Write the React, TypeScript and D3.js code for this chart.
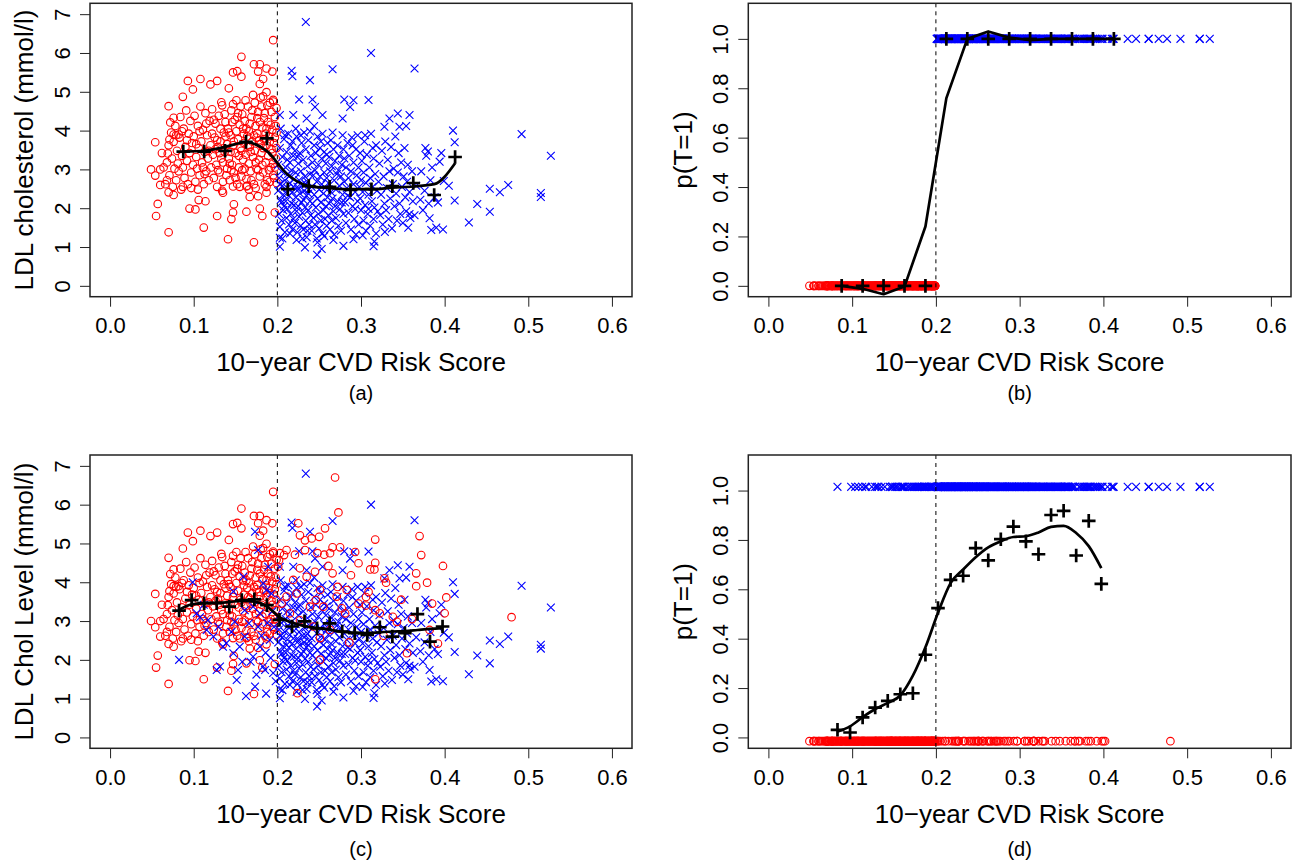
import { useEffect, useRef } from "react";
import * as d3 from "d3";

// ---------- values ----------
const xTicks = [0, 0.1, 0.2, 0.3, 0.4, 0.5, 0.6];
const ldlTicks = [0, 1, 2, 3, 4, 5, 6, 7];
const probTicks = [0, 0.2, 0.4, 0.6, 0.8, 1.0];
const cutoff = 0.2;

// panel (a) sample: [risk score, LDL]; treatment in (a)/(b) follows the cutoff
const sharpSample = [
  // below cutoff
  [0.049, 3.0], [0.054, 2.84], [0.055, 1.8], [0.057, 2.11], [0.054, 3.7], [0.06, 3.0], [0.06, 2.6], [0.07, 1.38],
  [0.07, 4.63], [0.07, 2.41], [0.076, 2.34], [0.072, 4.21], [0.076, 4.33], [0.071, 3.77], [0.069, 3.41], [0.068, 2.72],
  [0.076, 3.9], [0.082, 3.9], [0.087, 4.87], [0.087, 2.55], [0.093, 5.28], [0.095, 1.99], [0.099, 5.06], [0.102, 1.97],
  [0.108, 5.33], [0.112, 1.5], [0.114, 2.18], [0.106, 2.21], [0.12, 5.19], [0.128, 5.28], [0.128, 1.8], [0.133, 4.73],
  [0.141, 1.2], [0.142, 5.09], [0.145, 1.72], [0.147, 1.89], [0.148, 2.1], [0.147, 5.5], [0.152, 5.53], [0.157, 5.39],
  [0.157, 5.9], [0.163, 1.91], [0.172, 1.12], [0.172, 5.71], [0.179, 5.71], [0.177, 5.52], [0.187, 5.6], [0.183, 5.33],
  [0.179, 5.2], [0.187, 4.99], [0.195, 6.33], [0.194, 5.52], [0.195, 4.79], [0.179, 1.99], [0.182, 1.8], [0.197, 1.89],
  [0.177, 2.31], [0.167, 2.29], [0.187, 2.4], [0.163, 2.56], [0.135, 2.4], [0.147, 2.56],
  [0.062, 3.42], [0.064, 3.05], [0.066, 2.62], [0.068, 3.18], [0.07, 3.62], [0.071, 2.85], [0.073, 3.95], [0.074, 3.28],
  [0.075, 2.55], [0.076, 3.71], [0.077, 3.02], [0.078, 4.12], [0.079, 2.72], [0.08, 3.48], [0.079, 3.88],
  [0.081, 3.15], [0.082, 2.95], [0.083, 3.82], [0.084, 4.35], [0.085, 2.48], [0.086, 3.35], [0.087, 3.05], [0.088, 4.05],
  [0.089, 2.78], [0.09, 3.58], [0.091, 4.52], [0.092, 3.22], [0.093, 2.62], [0.094, 3.92], [0.095, 3.42], [0.096, 4.25],
  [0.097, 2.92], [0.098, 3.68], [0.099, 3.12], [0.086, 3.98], [0.092, 3.75], [0.097, 2.52],
  [0.1, 3.85], [0.101, 4.38], [0.102, 2.68], [0.103, 3.32], [0.104, 3.02], [0.105, 4.12], [0.106, 3.55], [0.107, 2.85],
  [0.108, 4.62], [0.109, 3.72], [0.11, 3.18], [0.111, 4.02], [0.112, 2.62], [0.113, 3.45], [0.114, 4.45], [0.115, 2.95],
  [0.116, 3.88], [0.117, 3.28], [0.118, 2.72], [0.119, 4.25], [0.12, 3.62], [0.103, 3.65], [0.107, 3.98], [0.111, 3.05],
  [0.115, 4.18], [0.118, 3.48], [0.105, 2.48], [0.113, 2.88],
  [0.121, 3.05], [0.122, 4.55], [0.123, 3.38], [0.124, 2.78], [0.125, 3.82], [0.126, 4.18], [0.127, 3.12], [0.128, 2.55],
  [0.129, 3.58], [0.13, 4.38], [0.131, 2.92], [0.132, 3.72], [0.133, 3.28], [0.134, 4.65], [0.135, 2.68], [0.136, 3.95],
  [0.137, 3.45], [0.138, 4.22], [0.139, 2.85], [0.14, 3.65], [0.122, 3.92], [0.126, 3.52], [0.129, 2.98], [0.132, 4.05],
  [0.135, 3.18], [0.138, 3.85], [0.124, 4.28], [0.128, 3.75], [0.131, 3.42], [0.134, 2.45], [0.137, 4.42], [0.14, 3.02],
  [0.141, 4.05], [0.142, 3.28], [0.143, 2.72], [0.144, 3.88], [0.145, 4.52], [0.146, 3.12], [0.147, 3.62], [0.148, 2.92],
  [0.149, 4.28], [0.15, 3.42], [0.151, 4.78], [0.152, 2.62], [0.153, 3.78], [0.154, 3.05], [0.155, 4.15], [0.156, 3.55],
  [0.157, 2.82], [0.158, 4.42], [0.159, 3.25], [0.16, 3.92], [0.142, 3.95], [0.144, 3.45], [0.146, 4.22], [0.148, 3.72],
  [0.15, 2.78], [0.152, 4.35], [0.154, 3.35], [0.156, 4.62], [0.158, 2.98], [0.16, 3.68], [0.143, 3.15], [0.147, 4.68],
  [0.151, 3.98], [0.155, 2.55], [0.159, 4.05], [0.145, 2.98], [0.153, 4.45], [0.157, 3.48],
  [0.161, 4.25], [0.162, 3.38], [0.163, 2.75], [0.164, 3.85], [0.165, 4.62], [0.166, 3.15], [0.167, 3.58], [0.168, 2.95],
  [0.169, 4.35], [0.17, 3.72], [0.171, 4.92], [0.172, 2.62], [0.173, 3.48], [0.174, 4.12], [0.175, 3.02], [0.176, 3.92],
  [0.177, 4.48], [0.178, 3.25], [0.179, 2.82], [0.18, 3.65], [0.161, 3.02], [0.163, 4.05], [0.165, 3.62], [0.167, 4.18],
  [0.169, 2.72], [0.171, 3.32], [0.173, 4.72], [0.175, 3.82], [0.177, 2.98], [0.179, 4.22], [0.162, 4.78], [0.164, 2.58],
  [0.166, 3.98], [0.168, 3.45], [0.17, 4.52], [0.172, 3.88], [0.174, 3.18], [0.176, 4.32], [0.178, 3.75], [0.18, 4.85],
  [0.166, 2.48], [0.174, 2.52],
  [0.181, 3.42], [0.182, 4.08], [0.183, 2.92], [0.184, 3.78], [0.185, 4.45], [0.186, 3.18], [0.187, 3.62], [0.188, 2.72],
  [0.189, 4.22], [0.19, 3.85], [0.191, 4.72], [0.192, 3.05], [0.193, 3.52], [0.194, 4.02], [0.195, 2.85], [0.196, 3.68],
  [0.197, 4.35], [0.198, 3.28], [0.199, 3.95], [0.199, 2.65], [0.181, 4.62], [0.183, 3.55], [0.185, 2.62], [0.187, 4.05],
  [0.189, 3.35], [0.191, 3.72], [0.193, 4.48], [0.195, 3.15], [0.197, 3.82], [0.199, 4.58], [0.182, 3.12], [0.184, 4.32],
  [0.186, 3.92], [0.188, 4.65], [0.19, 2.98], [0.192, 4.15], [0.194, 3.42], [0.196, 2.78], [0.198, 4.12], [0.183, 4.88],
  [0.187, 2.55], [0.191, 2.68], [0.195, 4.75], [0.197, 3.05], [0.199, 3.55],
  // above cutoff
  [0.234, 6.8], [0.312, 6.0], [0.364, 5.6], [0.266, 5.58], [0.217, 5.54], [0.218, 5.4], [0.239, 5.3], [0.226, 4.8],
  [0.242, 4.8], [0.28, 4.8], [0.291, 4.78], [0.287, 4.61], [0.309, 4.79], [0.203, 4.4], [0.219, 4.4], [0.235, 4.31],
  [0.245, 4.61], [0.254, 4.4], [0.278, 4.31], [0.334, 4.31], [0.344, 4.44], [0.358, 4.4], [0.346, 4.1], [0.354, 4.12],
  [0.328, 4.1], [0.41, 4.0], [0.412, 3.7], [0.38, 3.46], [0.377, 3.55], [0.394, 3.2], [0.399, 2.7], [0.412, 2.2],
  [0.429, 1.63], [0.439, 2.11], [0.454, 2.5], [0.454, 1.91], [0.466, 2.41], [0.476, 2.6], [0.492, 3.91], [0.527, 3.35],
  [0.515, 2.39], [0.515, 2.29],
  [0.203, 1.01], [0.233, 0.99], [0.2475, 0.8], [0.253, 0.95], [0.203, 1.24], [0.223, 1.18], [0.267, 1.18], [0.279, 1.03],
  [0.291, 1.2], [0.302, 1.3], [0.315, 1.02], [0.316, 1.14], [0.3285, 1.39], [0.382, 1.74], [0.384, 1.44], [0.39, 1.5],
  [0.398, 1.45], [0.3565, 1.5], [0.358, 1.85],
  [0.201, 2.45], [0.201, 3.12], [0.202, 1.85], [0.202, 2.78], [0.203, 3.55], [0.203, 1.52], [0.204, 2.22], [0.204, 4.05],
  [0.205, 2.95], [0.205, 1.68], [0.206, 2.58], [0.206, 3.32], [0.207, 1.95], [0.207, 2.35], [0.208, 3.78], [0.208, 2.05],
  [0.209, 1.38], [0.209, 2.72], [0.21, 3.05], [0.21, 2.18], [0.211, 1.75], [0.211, 3.45], [0.212, 2.52], [0.212, 1.98],
  [0.213, 2.88], [0.213, 3.92], [0.214, 1.58], [0.214, 2.32], [0.215, 3.18], [0.215, 2.65], [0.216, 1.85], [0.216, 3.62],
  [0.217, 2.12], [0.217, 2.98], [0.218, 1.45], [0.218, 2.42], [0.219, 3.35], [0.219, 1.72], [0.22, 2.75], [0.22, 2.08],
  [0.203, 2.62], [0.206, 1.22], [0.209, 3.88], [0.212, 3.25], [0.215, 1.35], [0.218, 3.72], [0.205, 2.15], [0.211, 2.38],
  [0.214, 2.82], [0.219, 2.55],
  [0.221, 1.62], [0.221, 3.48], [0.222, 2.28], [0.222, 2.92], [0.223, 1.92], [0.223, 3.85], [0.224, 2.55], [0.224, 1.38],
  [0.225, 3.15], [0.225, 2.05], [0.226, 2.72], [0.226, 1.78], [0.227, 3.42], [0.227, 2.38], [0.228, 1.55], [0.228, 2.95],
  [0.229, 3.68], [0.229, 2.15], [0.23, 1.88], [0.23, 2.62], [0.231, 3.25], [0.231, 1.45], [0.232, 2.45], [0.232, 3.95],
  [0.233, 2.02], [0.233, 2.82], [0.234, 1.68], [0.234, 3.52], [0.235, 2.32], [0.235, 1.25], [0.236, 3.08], [0.236, 2.68],
  [0.237, 1.95], [0.237, 3.75], [0.238, 2.48], [0.238, 1.58], [0.239, 2.88], [0.239, 2.18], [0.24, 3.35], [0.24, 1.82],
  [0.222, 4.05], [0.225, 2.48], [0.228, 3.88], [0.231, 2.22], [0.234, 2.62], [0.237, 2.38], [0.224, 3.32], [0.23, 1.22],
  [0.236, 1.42], [0.239, 3.98],
  [0.241, 2.55], [0.241, 1.42], [0.242, 3.18], [0.242, 2.12], [0.243, 1.75], [0.243, 2.85], [0.244, 3.62], [0.244, 2.35],
  [0.245, 1.58], [0.245, 2.98], [0.246, 2.02], [0.246, 3.42], [0.247, 1.22], [0.247, 2.68], [0.248, 3.85], [0.248, 2.25],
  [0.249, 1.85], [0.249, 3.12], [0.25, 2.48], [0.25, 1.48], [0.251, 2.82], [0.251, 3.55], [0.252, 1.68], [0.252, 2.15],
  [0.253, 3.28], [0.253, 2.62], [0.254, 1.35], [0.254, 3.92], [0.255, 2.38], [0.255, 1.95], [0.256, 2.92], [0.256, 3.45],
  [0.257, 1.72], [0.257, 2.52], [0.258, 3.15], [0.258, 2.05], [0.259, 1.55], [0.259, 2.78], [0.26, 3.68], [0.26, 2.28],
  [0.244, 4.12], [0.248, 1.12], [0.252, 3.72], [0.256, 1.28], [0.259, 3.38],
  [0.261, 1.82], [0.261, 2.65], [0.262, 3.32], [0.262, 2.12], [0.263, 1.45], [0.263, 2.95], [0.264, 3.75], [0.264, 2.42],
  [0.265, 1.68], [0.265, 3.08], [0.266, 2.25], [0.267, 3.52], [0.267, 1.92], [0.268, 2.72], [0.268, 1.32], [0.269, 3.22],
  [0.27, 2.48], [0.27, 1.75], [0.271, 2.88], [0.272, 3.62], [0.272, 2.18], [0.273, 1.55], [0.274, 2.58], [0.274, 3.35],
  [0.275, 1.98], [0.276, 2.82], [0.276, 1.42], [0.277, 3.12], [0.278, 2.35], [0.278, 3.88], [0.279, 1.85], [0.28, 2.68],
  [0.28, 3.28], [0.266, 3.95], [0.269, 2.05], [0.273, 2.98], [0.277, 2.15], [0.279, 3.52],
  [0.281, 2.15], [0.282, 1.62], [0.282, 3.05], [0.283, 2.52], [0.284, 3.68], [0.285, 1.88], [0.285, 2.78], [0.286, 3.35],
  [0.287, 2.28], [0.288, 1.45], [0.288, 2.95], [0.289, 3.82], [0.29, 2.05], [0.291, 2.62], [0.291, 3.18], [0.292, 1.72],
  [0.293, 2.42], [0.294, 3.52], [0.294, 1.32], [0.295, 2.85], [0.296, 2.18], [0.297, 3.05], [0.297, 1.58], [0.298, 2.55],
  [0.299, 3.42], [0.3, 1.95], [0.3, 2.72], [0.284, 2.32], [0.29, 3.62], [0.293, 1.98], [0.296, 3.88], [0.299, 2.25],
  [0.301, 3.22], [0.302, 2.42], [0.303, 1.68], [0.303, 2.92], [0.304, 3.72], [0.305, 2.08], [0.306, 1.42], [0.306, 2.65],
  [0.307, 3.38], [0.308, 1.85], [0.309, 2.35], [0.31, 3.05], [0.311, 1.55], [0.311, 2.78], [0.312, 3.92], [0.313, 2.18],
  [0.314, 2.55], [0.315, 1.72], [0.315, 3.28], [0.316, 2.02], [0.317, 2.88], [0.318, 3.62], [0.318, 1.35], [0.319, 2.45],
  [0.32, 1.92], [0.305, 3.88], [0.309, 1.98], [0.314, 3.55],
  [0.321, 2.68], [0.322, 3.15], [0.323, 1.82], [0.324, 2.35], [0.325, 3.48], [0.326, 1.58], [0.327, 2.82], [0.328, 2.12],
  [0.329, 3.72], [0.33, 1.95], [0.331, 2.52], [0.332, 3.25], [0.333, 1.72], [0.334, 2.95], [0.335, 2.25], [0.336, 3.58],
  [0.337, 1.48], [0.338, 2.62], [0.339, 3.02], [0.34, 2.05],
  [0.341, 3.85], [0.342, 2.38], [0.343, 1.68], [0.344, 2.92], [0.345, 3.42], [0.346, 2.12], [0.347, 1.85], [0.348, 3.18],
  [0.349, 2.55], [0.35, 1.62], [0.351, 2.82], [0.352, 3.55], [0.353, 2.28], [0.354, 1.92], [0.355, 2.68], [0.356, 3.12],
  [0.358, 2.42], [0.359, 1.75], [0.361, 2.95], [0.362, 2.18], [0.364, 1.82], [0.366, 2.58],
  [0.371, 2.22], [0.372, 2.95], [0.374, 1.95], [0.376, 2.45], [0.378, 3.35], [0.381, 2.12], [0.383, 2.72], [0.385, 3.05],
  [0.388, 2.28], [0.392, 2.15], [0.396, 3.42], [0.405, 2.58],
];

// panel (c): extra untreated above the cutoff and extra treated below it
const crossControl = [
  [0.269, 6.7], [0.273, 5.8], [0.225, 5.52], [0.227, 5.21], [0.241, 5.13], [0.257, 5.39], [0.25, 5.17], [0.233, 5.08],
  [0.317, 5.1], [0.37, 5.19], [0.372, 4.7], [0.398, 4.42], [0.366, 4.23], [0.366, 3.9], [0.379, 3.99], [0.402, 3.61],
  [0.4, 3.2], [0.382, 2.77], [0.355, 2.17], [0.338, 3.11], [0.343, 2.98], [0.317, 1.5], [0.317, 4.5], [0.316, 4.33],
  [0.311, 4.33], [0.297, 4.49], [0.293, 4.78], [0.275, 4.9], [0.266, 4.9], [0.263, 4.75], [0.256, 4.71], [0.248, 4.75],
  [0.233, 4.83], [0.221, 4.71], [0.211, 4.83], [0.203, 4.75], [0.266, 4.23], [0.261, 4.42], [0.272, 3.88], [0.288, 4.18],
  [0.283, 3.8], [0.297, 3.45], [0.309, 3.75], [0.306, 3.4], [0.306, 3.62], [0.317, 3.28], [0.3225, 3.2], [0.33, 3.99],
  [0.328, 4.1], [0.219, 4.06], [0.227, 4.36], [0.235, 4.14], [0.245, 4.27], [0.251, 3.8], [0.246, 3.54], [0.255, 3.37],
  [0.239, 3.37], [0.223, 3.71], [0.211, 3.63], [0.205, 3.45], [0.215, 3.2], [0.227, 3.02], [0.243, 2.86], [0.251, 2.56],
  [0.263, 2.77], [0.271, 3.63], [0.281, 3.2], [0.277, 3.33], [0.224, 1.14], [0.251, 2.0], [0.201, 4.4], [0.202, 4.57],
  [0.208, 4.7], [0.286, 2.45], [0.327, 2.62], [0.348, 3.55], [0.361, 3.05], [0.385, 3.45], [0.392, 2.42], [0.48, 3.1],
];
const crossTreated = [
  [0.0825, 2.0], [0.0988, 4.0], [0.1075, 3.1], [0.1155, 2.77], [0.1275, 1.74], [0.1314, 1.83], [0.1235, 2.6], [0.1295, 2.85],
  [0.139, 2.43], [0.1474, 2.17], [0.1514, 1.48], [0.153, 1.74], [0.149, 2.98], [0.1474, 3.76], [0.1594, 4.14], [0.161, 2.6],
  [0.1625, 1.07], [0.1733, 1.31], [0.171, 2.08], [0.1792, 2.34], [0.177, 2.85], [0.1733, 5.3], [0.177, 4.83], [0.183, 3.97],
  [0.187, 3.8], [0.1853, 1.74], [0.1865, 1.13], [0.191, 2.51], [0.183, 1.83], [0.195, 1.66], [0.1792, 3.2], [0.171, 3.37],
  [0.193, 3.71], [0.161, 3.28], [0.135, 2.34], [0.117, 3.02], [0.1036, 3.2], [0.155, 2.34], [0.166, 2.94], [0.189, 4.4],
  [0.168, 1.95], [0.175, 1.62], [0.181, 2.62], [0.186, 2.18], [0.192, 2.05], [0.196, 2.85], [0.198, 1.45], [0.194, 3.25],
  [0.188, 2.95], [0.158, 1.95], [0.145, 2.72], [0.112, 3.42],
];

// binned means (+) and smoothed fits, top row
const binsTop = [0.0875, 0.1125, 0.1375, 0.1625, 0.1875, 0.2125, 0.2375, 0.2625, 0.2875, 0.3125, 0.3375, 0.3625, 0.3875, 0.4125];
const meanLdlA = [3.46, 3.46, 3.48, 3.71, 3.8, 2.49, 2.57, 2.55, 2.47, 2.49, 2.57, 2.65, 2.34, 3.32];
const smoothLdlA = [3.46, 3.48, 3.58, 3.7, 3.47, 2.86, 2.57, 2.52, 2.49, 2.49, 2.53, 2.56, 2.62, 3.16];
const propTreatedB = [0, 0, 0, 0, 0, 1, 1, 1, 1, 1, 1, 1, 1, 1];
const smoothPropB = [0, -0.012, -0.034, -0.003, 0.24, 0.76, 1.0, 1.03, 1.005, 0.995, 1.0, 1.0, 1.0, 1.0];

// bottom row
const binsBottom = [0.0825, 0.0975, 0.1125, 0.1275, 0.1425, 0.1575, 0.1725, 0.1875, 0.2025, 0.2175, 0.2325,
  0.2475, 0.2625, 0.2775, 0.2925, 0.3075, 0.3225, 0.3375, 0.3525, 0.3675, 0.3825, 0.3975];
const meanLdlC = [3.27, 3.54, 3.46, 3.46, 3.37, 3.54, 3.56, 3.41, 3.03, 2.86, 2.99, 2.81, 2.94, 2.73, 2.69, 2.64,
  2.84, 2.6, 2.69, 3.18, 2.47, 2.86];
const smoothLdlC = [3.29, 3.43, 3.46, 3.47, 3.49, 3.52, 3.5, 3.38, 3.1, 2.96, 2.87, 2.82, 2.78, 2.72, 2.7, 2.69,
  2.71, 2.73, 2.74, 2.77, 2.8, 2.82];
const propTreatedD = [0.031, 0.02, 0.081, 0.121, 0.148, 0.175, 0.179, 0.335, 0.524, 0.638, 0.655, 0.767, 0.717,
  0.803, 0.854, 0.794, 0.742, 0.901, 0.918, 0.737, 0.877, 0.622];
const smoothPropD = [0.024, 0.045, 0.082, 0.115, 0.14, 0.17, 0.25, 0.365, 0.505, 0.625, 0.68, 0.73, 0.77, 0.795,
  0.812, 0.815, 0.83, 0.853, 0.857, 0.828, 0.775, 0.686];
// plotting levels of the rug of units in (d)
const dTreatedLevel = 1.015;
const dControlLevel = -0.015;

// ---------- layout ----------
const FONT = "Liberation Sans, Arial, Helvetica, sans-serif";
const RED = "#ff0000";
const BLUE = "#0000ff";
const ldlDomain = [-0.28, 7.28];
const probDomain = [-0.044, 1.144];
const riskDomain = [-0.024, 0.624];

const ctrlA = sharpSample.filter((d) => d[0] < cutoff);
const trtA = sharpSample.filter((d) => d[0] >= cutoff);
const ctrlC = ctrlA.concat(crossControl);
const trtC = trtA.concat(crossTreated);

const panels = [
  {
    box: { l: 90, t: 3.3, r: 632, b: 296.7 }, yDomain: ldlDomain, yTicks: ldlTicks, fmt: d3.format("d"),
    ylab: "LDL cholesterol (mmol/l)", label: "(a)", labelY: 400,
    layers: [{ pts: ctrlA, kind: "o" }, { pts: trtA, kind: "x" }],
    bins: binsTop, means: meanLdlA, smooth: smoothLdlA, curve: d3.curveMonotoneX,
  },
  {
    box: { l: 748.3, t: 3.3, r: 1291, b: 296.7 }, yDomain: probDomain, yTicks: probTicks, fmt: d3.format(".1f"),
    ylab: "p(T=1)", label: "(b)", labelY: 400,
    layers: [
      { pts: ctrlA.map((d) => [d[0], 0]), kind: "o" },
      { pts: trtA.map((d) => [d[0], 1]), kind: "x" },
    ],
    bins: binsTop, means: propTreatedB, smooth: smoothPropB, curve: d3.curveLinear,
  },
  {
    box: { l: 90, t: 455, r: 632, b: 748.3 }, yDomain: ldlDomain, yTicks: ldlTicks, fmt: d3.format("d"),
    ylab: "LDL Chol Level (mmol/l)", label: "(c)", labelY: 856,
    layers: [
      { pts: ctrlA, kind: "o" }, { pts: trtA, kind: "x" },
      { pts: crossControl, kind: "o" }, { pts: crossTreated, kind: "x" },
    ],
    bins: binsBottom, means: meanLdlC, smooth: smoothLdlC, curve: d3.curveMonotoneX,
  },
  {
    box: { l: 748.3, t: 455, r: 1291, b: 748.3 }, yDomain: probDomain, yTicks: probTicks, fmt: d3.format(".1f"),
    ylab: "p(T=1)", label: "(d)", labelY: 856,
    layers: [
      { pts: ctrlC.map((d) => [d[0], dControlLevel]), kind: "o" },
      { pts: trtC.map((d) => [d[0], dTreatedLevel]), kind: "x" },
    ],
    bins: binsBottom, means: propTreatedD, smooth: smoothPropD, curve: d3.curveMonotoneX,
  },
];

function drawPanel(svg: any, p: any) {
  const { box } = p;
  const x = d3.scaleLinear().domain(riskDomain).range([box.l, box.r]);
  const y = d3.scaleLinear().domain(p.yDomain).range([box.b, box.t]);
  const g = svg.append("g");

  // units
  p.layers.forEach((layer: any) => {
    if (layer.kind === "o") {
      g.append("g")
        .selectAll("circle")
        .data(layer.pts)
        .join("circle")
        .attr("cx", (d: number[]) => x(d[0]))
        .attr("cy", (d: number[]) => y(d[1]))
        .attr("r", 3.8)
        .attr("fill", "none")
        .attr("stroke", RED)
        .attr("stroke-width", 1.1);
    } else {
      g.append("g")
        .selectAll("path")
        .data(layer.pts)
        .join("path")
        .attr("d", "M-3.9,-3.9L3.9,3.9M-3.9,3.9L3.9,-3.9")
        .attr("transform", (d: number[]) => `translate(${x(d[0])},${y(d[1])})`)
        .attr("fill", "none")
        .attr("stroke", BLUE)
        .attr("stroke-width", 1.1);
    }
  });

  // cutoff
  g.append("line")
    .attr("x1", x(cutoff))
    .attr("x2", x(cutoff))
    .attr("y1", box.t)
    .attr("y2", box.b)
    .attr("stroke", "#000")
    .attr("stroke-width", 1)
    .attr("stroke-dasharray", "4,4");

  // binned means
  g.append("g")
    .selectAll("path")
    .data(p.bins.map((b: number, i: number) => [b, p.means[i]]))
    .join("path")
    .attr("d", "M-6.8,0H6.8M0,-6.8V6.8")
    .attr("transform", (d: number[]) => `translate(${x(d[0])},${y(d[1])})`)
    .attr("stroke", "#000")
    .attr("stroke-width", 2.7);

  // smoothed fit
  const line = d3
    .line()
    .x((d: any) => x(d[0]))
    .y((d: any) => y(d[1]))
    .curve(p.curve);
  g.append("path")
    .attr("d", line(p.bins.map((b: number, i: number) => [b, p.smooth[i]])))
    .attr("fill", "none")
    .attr("stroke", "#000")
    .attr("stroke-width", 2.7)
    .attr("stroke-linejoin", "round");

  // frame
  g.append("rect")
    .attr("x", box.l)
    .attr("y", box.t)
    .attr("width", box.r - box.l)
    .attr("height", box.b - box.t)
    .attr("fill", "none")
    .attr("stroke", "#222")
    .attr("stroke-width", 1.5);

  // x axis
  const xa = g
    .append("g")
    .attr("transform", `translate(0,${box.b})`)
    .call(d3.axisBottom(x).tickValues(xTicks).tickSize(10).tickFormat(d3.format(".1f")));
  xa.select(".domain").remove();
  xa.selectAll("line").attr("stroke", "#222");
  xa.selectAll("text")
    .attr("y", 36.5)
    .attr("dy", null)
    .attr("fill", "#000")
    .style("font-family", FONT)
    .style("font-size", "22px");

  // y axis
  const ya = g
    .append("g")
    .attr("transform", `translate(${box.l},0)`)
    .call(d3.axisLeft(y).tickValues(p.yTicks).tickSize(10).tickFormat(p.fmt));
  ya.select(".domain").remove();
  ya.selectAll("line").attr("stroke", "#222");
  ya.selectAll("text")
    .attr("x", null)
    .attr("dy", null)
    .attr("transform", "translate(-20,0) rotate(-90)")
    .attr("text-anchor", "middle")
    .attr("fill", "#000")
    .style("font-family", FONT)
    .style("font-size", "22px");

  // titles
  const cx = (box.l + box.r) / 2;
  g.append("text")
    .attr("x", cx)
    .attr("y", box.b + 74.3)
    .attr("text-anchor", "middle")
    .style("font-family", FONT)
    .style("font-size", "26px")
    .text("10\u2212year CVD Risk Score");

  g.append("text")
    .attr("transform", `translate(${box.l - 56.7},${(box.t + box.b) / 2}) rotate(-90)`)
    .attr("text-anchor", "middle")
    .style("font-family", FONT)
    .style("font-size", "26px")
    .text(p.ylab);

  g.append("text")
    .attr("x", cx)
    .attr("y", p.labelY)
    .attr("text-anchor", "middle")
    .style("font-family", FONT)
    .style("font-size", "20px")
    .text(p.label);
}

export default function App() {
  const ref = useRef<SVGSVGElement>(null);

  useEffect(() => {
    const svg = d3.select(ref.current);
    svg.selectAll("*").remove();
    panels.forEach((p) => drawPanel(svg, p));
  }, []);

  return (
    <div style={{ position: "absolute", left: 0, top: 0 }}>
      <svg ref={ref} width={1298} height={867} style={{ display: "block", background: "#fff" }} />
    </div>
  );
}
